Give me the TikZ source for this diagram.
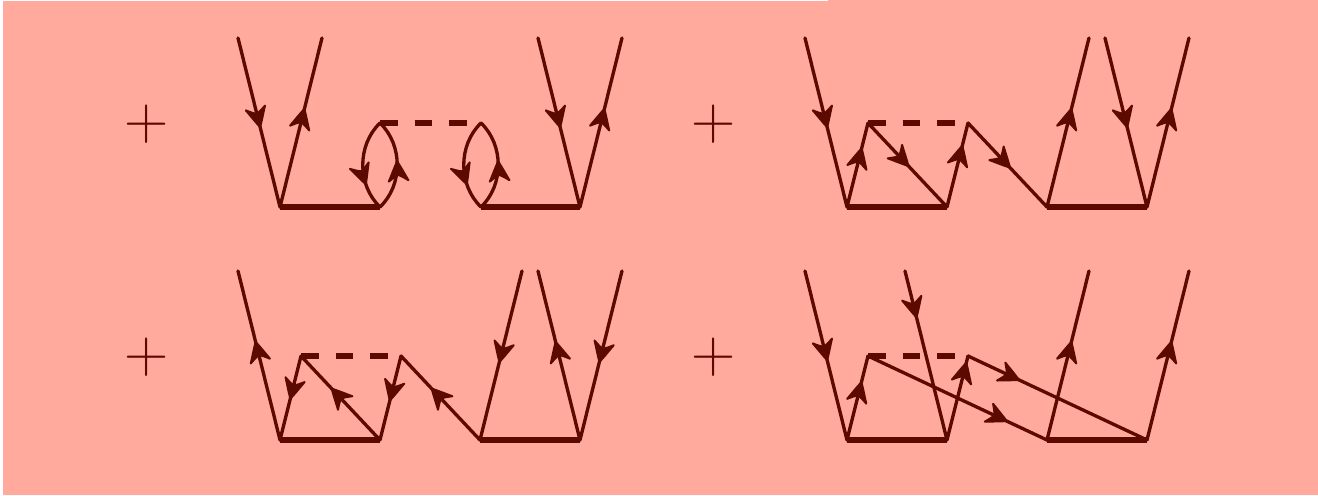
\documentclass[tikz,border=0pt]{standalone}
\usetikzlibrary{decorations.markings}
\definecolor{bgpink}{RGB}{255,170,157}
\definecolor{ink}{RGB}{92,10,0}
\newcommand{\fermionhead}{%
  \fill[ink,draw=ink,line width=1.5pt,line join=round]
    (-0.8pt,0pt) .. controls (-5pt,2.4pt) and (-10pt,4.6pt) .. (-15.5pt,7.4pt)
    .. controls (-13.5pt,4.6pt) and (-11.8pt,2.2pt) .. (-11pt,0pt)
    .. controls (-11.8pt,-2.2pt) and (-13.5pt,-4.6pt) .. (-15.5pt,-7.4pt)
    .. controls (-10pt,-4.6pt) and (-5pt,-2.4pt) .. (-0.8pt,0pt) -- cycle;}
\tikzset{
  fermion/.style={draw=ink,line width=2.5pt,line cap=round},
  bold line/.style={draw=ink,line width=4pt},
  ia/.style={draw=ink,line width=4.2pt,dash pattern=on 13.2pt off 12.8pt},
  arr/.style={fermion,postaction={decorate,decoration={markings,mark=at position #1 with {\fermionhead}}}},
  plus/.style={text=ink,inner sep=0pt,font=\fontsize{46}{46}\selectfont}
}
\begin{document}
\begin{tikzpicture}[x=0.75pt,y=-0.75pt]
\useasboundingbox (0,0) rectangle (1318,496);
\fill[white] (0,0) rectangle (1318,496);
\fill[bgpink] (3,1) rectangle (1318,495);
\fill[bgpink] (828,0) rectangle (1318,1);
\node[plus] (p1) at (147,124) {+};
\node[plus] (p2) at (714,124) {+};
\node[plus] (p3) at (147,357) {+};
\node[plus] (p4) at (714,357) {+};
% diagram A
\coordinate (a1) at (238,38); \coordinate (a2) at (322,38);
\coordinate (a3) at (538,38); \coordinate (a4) at (622,38);
\coordinate (a5) at (280,207); \coordinate (a6) at (380,207);
\coordinate (a7) at (481,207); \coordinate (a8) at (580,207);
\coordinate (a9) at (380,123); \coordinate (a10) at (481,123);
\path[arr=0.533] (a1) -- (a5);
\path[arr=0.586] (a5) -- (a2);
\path[arr=0.533] (a3) -- (a8);
\path[arr=0.586] (a8) -- (a4);
\path[bold line] (a5) -- (a6);
\path[bold line] (a7) -- (a8);
\path[ia] (a9) -- (a10);
\path[arr=0.72] (a9) .. controls +(-23,22) and +(-23,-22) .. (a6);
\path[arr=0.55] (a6) .. controls +(23,-22) and +(23,22) .. (a9);
\path[arr=0.72] (a10) .. controls +(-23,22) and +(-23,-22) .. (a7);
\path[arr=0.55] (a7) .. controls +(23,-22) and +(23,22) .. (a10);
% diagram B
\coordinate (b1) at (805,38); \coordinate (b2) at (1089,38);
\coordinate (b3) at (1105,38); \coordinate (b4) at (1189,38);
\coordinate (b5) at (847,207); \coordinate (b6) at (947,207);
\coordinate (b7) at (1047,207); \coordinate (b8) at (1147,207);
\coordinate (b9) at (868,123); \coordinate (b10) at (968,123);
\path[arr=0.533] (b1) -- (b5);
\path[arr=0.71] (b5) -- (b9);
\path[bold line] (b5) -- (b6);
\path[bold line] (b7) -- (b8);
\path[ia] (b9) -- (b10);
\path[arr=0.52] (b9) -- (b6);
\path[arr=0.74] (b6) -- (b10);
\path[arr=0.54] (b10) -- (b7);
\path[arr=0.586] (b7) -- (b2);
\path[arr=0.533] (b3) -- (b8);
\path[arr=0.586] (b8) -- (b4);
% diagram C
\coordinate (c1) at (238,271); \coordinate (c2) at (522,271);
\coordinate (c3) at (538,271); \coordinate (c4) at (622,271);
\coordinate (c5) at (280,440); \coordinate (c6) at (380,440);
\coordinate (c7) at (480,440); \coordinate (c8) at (580,440);
\coordinate (c9) at (301,356); \coordinate (c10) at (401,356);
\path[arr=0.586] (c5) -- (c1);
\path[arr=0.52] (c9) -- (c5);
\path[bold line] (c5) -- (c6);
\path[bold line] (c7) -- (c8);
\path[ia] (c9) -- (c10);
\path[arr=0.62] (c6) -- (c9);
\path[arr=0.54] (c10) -- (c6);
\path[arr=0.62] (c7) -- (c10);
\path[arr=0.544] (c2) -- (c7);
\path[arr=0.586] (c8) -- (c3);
\path[arr=0.544] (c4) -- (c8);
% diagram D
\coordinate (d1) at (805,271); \coordinate (d2) at (905,271);
\coordinate (d3) at (1089,271); \coordinate (d4) at (1189,271);
\coordinate (d5) at (847,440); \coordinate (d6) at (947,440);
\coordinate (d7) at (1047,440); \coordinate (d8) at (1147,440);
\coordinate (d9) at (868,356); \coordinate (d10) at (968,356);
\path[arr=0.533] (d1) -- (d5);
\path[arr=0.70] (d5) -- (d9);
\path[bold line] (d5) -- (d6);
\path[bold line] (d7) -- (d8);
\path[ia] (d9) -- (d10);
\path[arr=0.78] (d9) -- (d7);
\path[arr=0.28] (d2) -- (d6);
\path[arr=0.93] (d6) -- (d10);
\path[arr=0.29] (d10) -- (d8);
\path[arr=0.586] (d7) -- (d3);
\path[arr=0.586] (d8) -- (d4);
\end{tikzpicture}
\end{document}
